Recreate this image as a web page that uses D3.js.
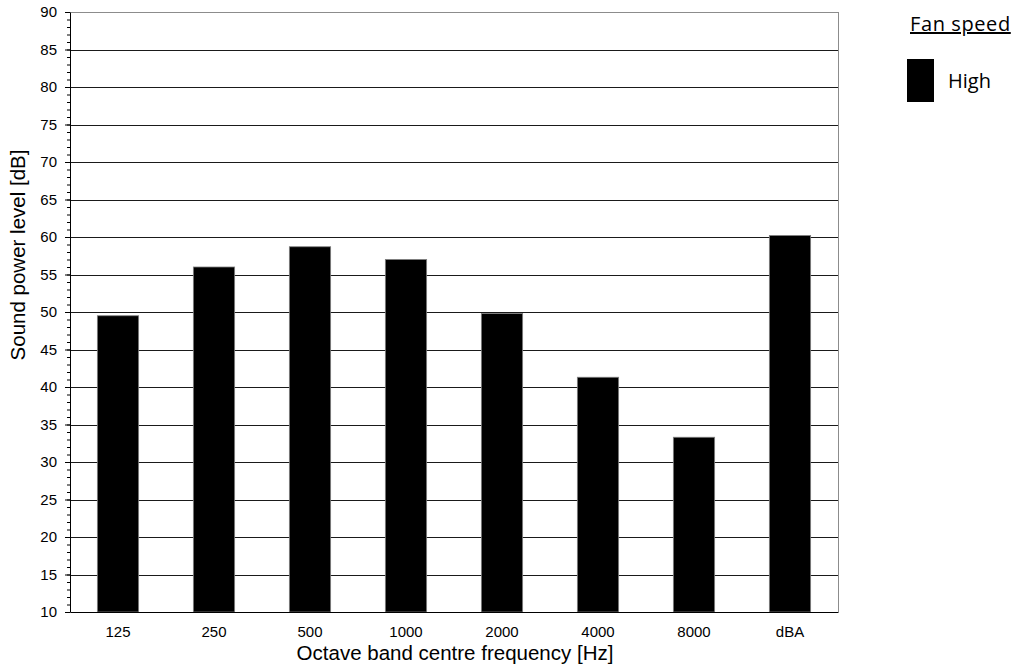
<!DOCTYPE html>
<html>
<head>
<meta charset="utf-8">
<script src="https://cdn.jsdelivr.net/npm/d3@7"></script>
<style>
  body { margin: 0; background: #fff; }
  svg .tick text { font-family: Arial, "Liberation Sans", Helvetica, sans-serif; font-size: 15px; fill: #000; }
  svg text.axis-title { font-family: Arial, "Liberation Sans", Helvetica, sans-serif; font-size: 20.5px; fill: #000; }
  svg .legend text { font-family: "Open Sans", Lato, sans-serif; font-size: 20px; fill: #000; }
</style>
</head>
<body>
<svg id="chart"></svg>
<script>
// chart data
const bands = ["125", "250", "500", "1000", "2000", "4000", "8000", "dBA"];
const levels = [49.5, 56, 58.7, 57, 49.8, 41.3, 33.3, 60.2];
const yTicks = [10, 15, 20, 25, 30, 35, 40, 45, 50, 55, 60, 65, 70, 75, 80, 85, 90];
const seriesName = "High";
const legendTitle = "Fan speed";

const config = {
  containerWidth: 1019,
  containerHeight: 671,
  margin: { top: 12, right: 181, bottom: 59, left: 70 }
};

const width = config.containerWidth - config.margin.left - config.margin.right;
const height = config.containerHeight - config.margin.top - config.margin.bottom;

const svg = d3.select("#chart")
  .attr("width", config.containerWidth)
  .attr("height", config.containerHeight);

const chart = svg.append("g")
  .attr("transform", `translate(${config.margin.left},${config.margin.top})`);

const xScale = d3.scaleBand().domain(bands).range([0, width]).paddingInner(0.57).paddingOuter(0.285);
const yScale = d3.scaleLinear().domain([10, 90]).range([height, 0]);

// plot frame (top and right in grey)
chart.append("line").attr("x1", 0).attr("x2", width).attr("y1", 0.5).attr("y2", 0.5)
  .attr("stroke", "#8c8c8c");
chart.append("line").attr("x1", width + 0.5).attr("x2", width + 0.5).attr("y1", 0).attr("y2", height)
  .attr("stroke", "#8c8c8c");

// horizontal gridlines
chart.append("g")
  .selectAll("line")
  .data(yTicks.filter(d => d > 10 && d < 90))
  .join("line")
  .attr("x1", 0)
  .attr("x2", width)
  .attr("y1", d => Math.round(yScale(d)) + 0.5)
  .attr("y2", d => Math.round(yScale(d)) + 0.5)
  .attr("stroke", "#1a1a1a")
  .attr("stroke-width", 1);

// bars
chart.append("g")
  .selectAll("rect")
  .data(levels)
  .join("rect")
  .attr("x", (d, i) => xScale(bands[i]))
  .attr("y", d => yScale(d))
  .attr("width", xScale.bandwidth())
  .attr("height", d => height - yScale(d))
  .attr("fill", "#000")
  .attr("stroke", "#7f7f7f")
  .attr("stroke-width", 0.8);

// minor ticks on y axis
const minorAxis = d3.axisLeft(yScale)
  .tickValues(d3.range(10, 91, 1))
  .tickSize(3)
  .tickFormat("");
chart.append("g").attr("class", "axis minor").call(minorAxis)
  .call(g => g.select(".domain").remove())
  .selectAll("line").attr("stroke", "#000");

// y axis
const yAxis = d3.axisLeft(yScale).tickValues(yTicks).tickSize(5).tickPadding(8).tickSizeOuter(0);
chart.append("g").attr("class", "axis y-axis").call(yAxis)
  .attr("font-family", null).attr("font-size", null)
  .call(g => g.select(".domain").attr("stroke", "#000"))
  .selectAll("line").attr("stroke", "#000");

// x axis
const xAxis = d3.axisBottom(xScale).tickSize(0).tickPadding(14).tickSizeOuter(0);
chart.append("g").attr("class", "axis x-axis")
  .attr("transform", `translate(0,${height})`)
  .call(xAxis)
  .attr("font-family", null).attr("font-size", null)
  .call(g => g.select(".domain").attr("stroke", "#000"));

// axis titles
chart.append("text")
  .attr("class", "axis-title")
  .attr("x", width / 2 + 1)
  .attr("y", height + 48)
  .attr("text-anchor", "middle")
  .text("Octave band centre frequency [Hz]");

chart.append("text")
  .attr("class", "axis-title")
  .attr("transform", `translate(-45,${height / 2 - 57}) rotate(-90)`)
  .attr("text-anchor", "middle")
  .text("Sound power level [dB]");

// legend
const legend = svg.append("g").attr("class", "legend");
legend.append("text")
  .attr("x", 910)
  .attr("y", 31)
  .attr("letter-spacing", "0.6px")
  .attr("text-decoration", "underline")
  .text(legendTitle);
legend.append("rect")
  .attr("x", 907)
  .attr("y", 59)
  .attr("width", 27)
  .attr("height", 43)
  .attr("fill", "#000");
legend.append("text")
  .attr("x", 948)
  .attr("y", 88)
  .text(seriesName);
</script>
</body>
</html>
